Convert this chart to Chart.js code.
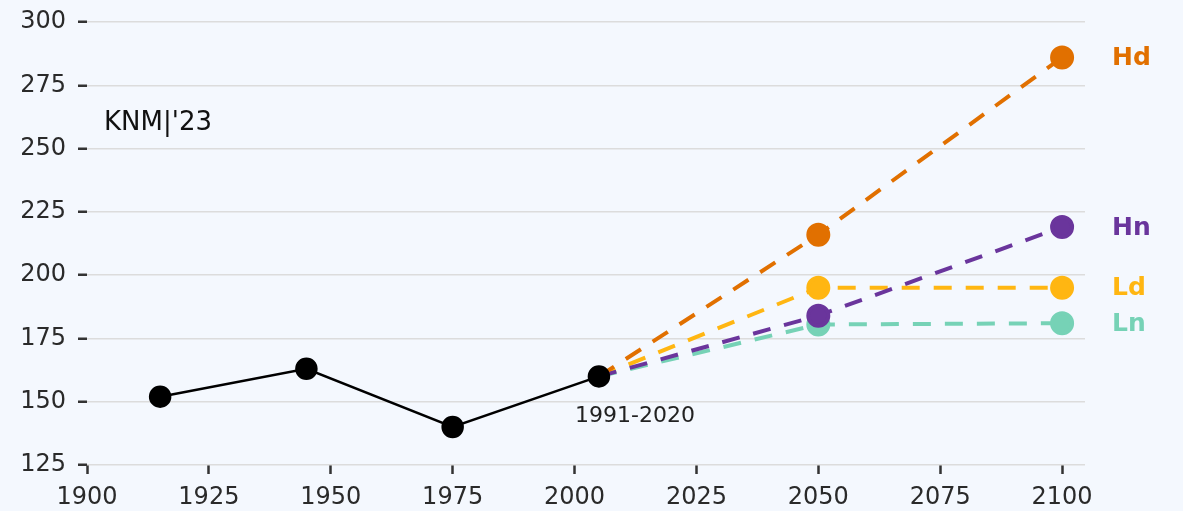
<!DOCTYPE html>
<html lang="en">
<head>
  <meta charset="UTF-8">
  <title>KNMI'23 scenarios</title>
  <script src="https://cdn.jsdelivr.net/npm/chart.js@4.4.0/dist/chart.umd.min.js"></script>
  <style>
    html, body { margin: 0; padding: 0; background: #f4f8fe; }
    #wrap { width: 1183px; height: 511px; }
  </style>
</head>
<body>
  <div id="wrap"><canvas id="chart"></canvas></div>

  <script>
    // observed climate periods (centre year) and values
    const histYears = [1915, 1945, 1975, 2005];
    const histValues = [152, 163, 140, 160];

    // scenario years, starting from the 1991-2020 reference point
    const scenYears = [2005, 2050, 2100];
    const scenNames = ['Hd', 'Hn', 'Ld', 'Ln'];
    const hdValues = [160, 216, 286];
    const hnValues = [160, 184, 219];
    const ldValues = [160, 195, 195];
    const lnValues = [160, 180.5, 181];
    const scenColors = ['#e17000', '#6a359c', '#ffb612', '#76d2b6'];

    const xTicks = [1900, 1925, 1950, 1975, 2000, 2025, 2050, 2075, 2100];
    const yTicks = [125, 150, 175, 200, 225, 250, 275, 300];

    const font = 'DejaVu Sans';

    function pts(xs, ys) {
      return xs.map((x, i) => ({ x: x, y: ys[i] }));
    }

    const scenValues = [hdValues, hnValues, ldValues, lnValues];

    const datasets = [{
      label: 'observed',
      data: pts(histYears, histValues),
      borderColor: '#000',
      backgroundColor: '#000',
      borderWidth: 2.5,
      pointRadius: 10,
      pointHoverRadius: 10
    }];
    scenNames.forEach((name, i) => {
      datasets.push({
        label: name,
        data: pts(scenYears, scenValues[i]),
        borderColor: scenColors[i],
        backgroundColor: scenColors[i],
        borderWidth: 4,
        borderDash: [18, 14],
        pointRadius: [0, 10, 10],
        pointHoverRadius: [0, 10, 10]
      });
    });

    const bgPlugin = {
      id: 'bg',
      beforeDraw(chart) {
        const c = chart.ctx;
        c.save();
        c.fillStyle = '#f4f8fe';
        c.fillRect(0, 0, chart.width, chart.height);
        c.restore();
      }
    };

    const textPlugin = {
      id: 'texts',
      afterDatasetsDraw(chart) {
        const c = chart.ctx;
        const xs = chart.scales.x, ys = chart.scales.y;
        c.save();
        // scenario names at the end of each line
        c.font = 'bold 25px "' + font + '"';
        c.textAlign = 'left';
        c.textBaseline = 'middle';
        scenNames.forEach((name, i) => {
          c.fillStyle = scenColors[i];
          const v = scenValues[i];
          c.fillText(name, xs.getPixelForValue(2100) + 50, ys.getPixelForValue(v[v.length - 1]) + 1);
        });
        // label and reference period
        c.fillStyle = '#111';
        c.font = '26px "' + font + '"';
        c.fillText("KNM|'23", xs.getPixelForValue(1903.5), ys.getPixelForValue(260));
        c.font = '22px "' + font + '"';
        c.textAlign = 'center';
        c.fillStyle = '#222';
        c.fillText('1991-2020', xs.getPixelForValue(2012.4), ys.getPixelForValue(144.4));
        c.restore();
      }
    };

    new Chart(document.getElementById('chart'), {
      type: 'line',
      data: { datasets: datasets },
      plugins: [bgPlugin, textPlugin],
      options: {
        responsive: true,
        maintainAspectRatio: false,
        animation: false,
        layout: { padding: { top: 22, right: 98, left: 0, bottom: 0 } },
        plugins: {
          legend: { display: false },
          tooltip: { enabled: false }
        },
        scales: {
          x: {
            type: 'linear',
            min: 1900,
            max: 2104.7,
            afterFit(s) { s.height = 46; s.paddingLeft = 0; s.paddingRight = 0; },
            afterBuildTicks(s) { s.ticks = xTicks.map(v => ({ value: v })); },
            border: { display: false },
            grid: {
              drawOnChartArea: false,
              drawTicks: true,
              tickLength: 9,
              tickWidth: 2.5,
              tickColor: '#333'
            },
            ticks: {
              autoSkip: false,
              maxRotation: 0,
              padding: 9,
              color: '#2a2a2a',
              font: { family: font, size: 24 },
              callback: v => String(v)
            }
          },
          y: {
            min: 125,
            max: 300,
            afterFit(s) { s.width = 87; s.paddingTop = 0; s.paddingBottom = 0; },
            afterBuildTicks(s) { s.ticks = yTicks.map(v => ({ value: v })); },
            border: { display: false },
            grid: {
              color: '#dcdcdc',
              lineWidth: 1.5,
              drawTicks: true,
              tickLength: 9,
              tickWidth: 2.5,
              tickColor: '#333'
            },
            ticks: {
              padding: 12,
              color: '#2a2a2a',
              font: { family: font, size: 24 },
              callback: v => String(v)
            }
          }
        }
      }
    });
  </script>
</body>
</html>
